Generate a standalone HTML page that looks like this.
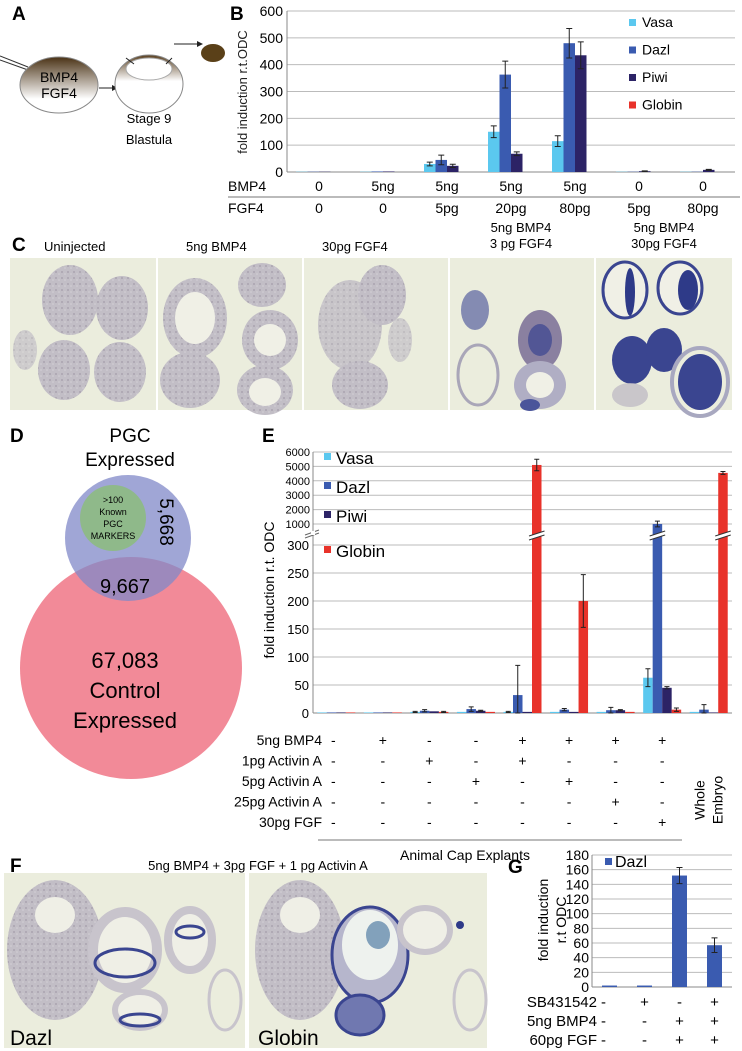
<!DOCTYPE html>
<html><head><meta charset="utf-8"><style>
html,body{margin:0;padding:0;background:#fff}
svg{display:block;font-family:"Liberation Sans",Arial,sans-serif}
</style></head><body>
<svg id="fig" width="742" height="1051" viewBox="0 0 742 1051" xmlns="http://www.w3.org/2000/svg">
<defs>
<linearGradient id="emb" x1="0" y1="0" x2="0" y2="1"><stop offset="0" stop-color="#4a3215"/><stop offset="0.75" stop-color="#fff"/></linearGradient>
<linearGradient id="emb2" x1="0" y1="0" x2="0" y2="1"><stop offset="0" stop-color="#5a4020"/><stop offset="0.45" stop-color="#fff"/></linearGradient>
<pattern id="tex" width="6" height="6" patternUnits="userSpaceOnUse"><rect width="6" height="6" fill="#c2bec6"/><circle cx="2" cy="2" r="1" fill="#aaa4b0"/><circle cx="5" cy="4" r="0.8" fill="#d4d0d6"/></pattern>
</defs>
<!-- Panel A -->
<g>
<text x="12" y="20" font-size="19" font-weight="bold">A</text>
<line x1="0" y1="56" x2="28" y2="67" stroke="#333" stroke-width="1"/><line x1="0" y1="60" x2="28" y2="70" stroke="#333" stroke-width="1"/>
<ellipse cx="59" cy="85" rx="39" ry="28" fill="url(#emb)" stroke="#888"/>
<text x="59" y="82" font-size="14" text-anchor="middle">BMP4</text>
<text x="59" y="98" font-size="14" text-anchor="middle">FGF4</text>
<line x1="99" y1="88" x2="114" y2="88" stroke="#222"/><path d="M112,85 L118,88 L112,91Z" fill="#222"/>
<ellipse cx="149" cy="84" rx="34" ry="29" fill="url(#emb2)" stroke="#888"/>
<ellipse cx="149" cy="69" rx="23" ry="11" fill="#fff" stroke="#aaa"/>
<line x1="126" y1="58" x2="134" y2="64" stroke="#222"/><line x1="172" y1="58" x2="166" y2="64" stroke="#222"/>
<text x="149" y="123" font-size="13" text-anchor="middle">Stage 9</text>
<text x="149" y="144" font-size="13" text-anchor="middle">Blastula</text>
<line x1="174" y1="44" x2="199" y2="44" stroke="#222"/><path d="M197,41 L203,44 L197,47Z" fill="#222"/>
<ellipse cx="213" cy="53" rx="12" ry="9" fill="#5a4018"/>
</g>
<!-- Panel B -->
<g id="panelB">
<text x="230" y="20" font-size="19" font-weight="bold">B</text>
<text transform="translate(247,92) rotate(-90)" font-size="13" text-anchor="middle" fill="#222">fold induction r.t.ODC</text>
</g>
<!-- Panel C -->
<g id="panelC">
<text x="12" y="251" font-size="19" font-weight="bold">C</text>
<text x="44" y="251" font-size="13">Uninjected</text>
<text x="186" y="251" font-size="13">5ng BMP4</text>
<text x="322" y="251" font-size="13">30pg FGF4</text>
<text x="521" y="232" font-size="13" text-anchor="middle">5ng BMP4</text>
<text x="521" y="248" font-size="13" text-anchor="middle">3 pg FGF4</text>
<text x="664" y="232" font-size="13" text-anchor="middle">5ng BMP4</text>
<text x="664" y="248" font-size="13" text-anchor="middle">30pg FGF4</text>
</g>
<!-- Panel D -->
<g>
<text x="10" y="442" font-size="19" font-weight="bold">D</text>
<text x="130" y="442" font-size="19" text-anchor="middle">PGC</text>
<text x="130" y="466" font-size="19" text-anchor="middle">Expressed</text>
<circle cx="131" cy="668" r="111" fill="#f28a98"/>
<circle cx="128" cy="538" r="63" fill="#8088c8" fill-opacity="0.75"/>
<circle cx="113" cy="518" r="33" fill="#8fb98a"/>
<text x="113" y="503" font-size="9" text-anchor="middle">&gt;100</text>
<text x="113" y="515" font-size="9" text-anchor="middle">Known</text>
<text x="113" y="527" font-size="9" text-anchor="middle">PGC</text>
<text x="113" y="539" font-size="9" text-anchor="middle">MARKERS</text>
<text transform="translate(160,522) rotate(90)" font-size="19" text-anchor="middle">5,668</text>
<text x="125" y="593" font-size="20" text-anchor="middle">9,667</text>
<text x="125" y="668" font-size="22" text-anchor="middle">67,083</text>
<text x="125" y="698" font-size="22" text-anchor="middle">Control</text>
<text x="125" y="728" font-size="22" text-anchor="middle">Expressed</text>
</g>
<!-- Panel E -->
<g id="panelE">
<text x="262" y="442" font-size="19" font-weight="bold">E</text>
<text transform="translate(274,590) rotate(-90)" font-size="14" text-anchor="middle">fold induction r.t. ODC</text>
<text x="465" y="860" font-size="14" text-anchor="middle">Animal Cap Explants</text>
<line x1="318" y1="840" x2="682" y2="840" stroke="#777"/>
</g>
<!-- Panel F -->
<g id="panelF">
<text x="10" y="872" font-size="19" font-weight="bold">F</text>
<text x="258" y="870" font-size="13" text-anchor="middle">5ng BMP4  + 3pg FGF + 1 pg Activin A</text>
</g>
<!-- Panel G -->
<g id="panelG">
<text x="508" y="873" font-size="19" font-weight="bold">G</text>
<text transform="translate(548,920) rotate(-90)" font-size="14" text-anchor="middle">fold induction</text>
<text transform="translate(566,920) rotate(-90)" font-size="14" text-anchor="middle">r.t ODC</text>
</g>
</svg>
<script>
const NS="http://www.w3.org/2000/svg";
function mk(parent,tag,attrs,txt){const e=document.createElementNS(NS,tag);for(const k in attrs)e.setAttribute(k,attrs[k]);if(txt!==undefined)e.textContent=txt;parent.appendChild(e);return e;}
const seriesNames=["Vasa","Dazl","Piwi","Globin"];
const seriesColors=["#5bc8ef","#3a5bb0","#2c2366","#e8322a"];

// ---------- Panel B data ----------
const bTicks=[0,100,200,300,400,500,600];
const bBmp4=["0","5ng","5ng","5ng","5ng","0","0"];
const bFgf4=["0","0","5pg","20pg","80pg","5pg","80pg"];
const bVasa=[1,1,30,150,115,1,1];
const bDazl=[1,2,45,363,480,1,1];
const bPiwi=[1,2,23,68,435,3,8];
const bGlobin=[0,0,0,0,0,0,0];
const bVasaErr=[0,0,7,22,20,0,0];
const bDazlErr=[0,0,18,50,55,0,0];
const bPiwiErr=[0,0,6,7,50,1,2];
const bGlobinErr=[0,0,0,0,0,0,0];

// ---------- Panel E data ----------
const eTicksLow=[0,50,100,150,200,250,300];
const eTicksHigh=[1000,2000,3000,4000,5000,6000];
const eVasa=[1,1,2,2,2,2,2,63,2];
const eDazl=[1,1,4,7,32,6,5,1000,6];
const ePiwi=[1,1,3,4,2,2,5,45,1];
const eGlobin=[1,1,2,2,5100,200,2,6,4550];
const eVasaErr=[0,0,1,0,1,0,0,16,0];
const eDazlErr=[0,0,2,4,53,2,5,200,9];
const ePiwiErr=[0,0,0,1,0,0,1,2,0];
const eGlobinErr=[0,0,1,0,400,47,0,3,100];
const eBreakGroups=[4,7,8];
const eRowLabels=["5ng BMP4","1pg Activin A","5pg Activin A","25pg Activin A","30pg FGF"];
const eRow0=["-","+","-","-","+","+","+","+"];
const eRow1=["-","-","+","-","+","-","-","-"];
const eRow2=["-","-","-","+","-","+","-","-"];
const eRow3=["-","-","-","-","-","-","+","-"];
const eRow4=["-","-","-","-","-","-","-","+"];

// ---------- Panel G data ----------
const gTicks=[0,20,40,60,80,100,120,140,160,180];
const gDazl=[2,2,152,57];
const gDazlErr=[0,0,11,10];
const gRowLabels=["SB431542","5ng BMP4","60pg FGF"];
const gRow0=["-","+","-","+"];
const gRow1=["-","-","+","+"];
const gRow2=["-","-","+","+"];

// ===== Panel B draw =====
(function(){
const g=document.getElementById("panelB");
const L=287,R=735,T=11,B0=172,n=bBmp4.length,gw=(R-L)/n;
const y=v=>B0-(v/600)*(B0-T);
bTicks.forEach(t=>{
 const ln=mk(g,"line",{x1:L,x2:R,y1:y(t),y2:y(t),stroke:t===0?"#888":"#bbb"});
 
 
 const tx=mk(g,"text",{x:L-4,y:y(t)+5,"font-size":14,"text-anchor":"end"},String(t));
 
 
});
mk(g,"line",{x1:L,x2:L,y1:T,y2:B0,stroke:"#888"});
const vals=[bVasa,bDazl,bPiwi,bGlobin],errs=[bVasaErr,bDazlErr,bPiwiErr,bGlobinErr];
const bw=11.5;
for(let i=0;i<n;i++){
 const c=L+gw*(i+0.5);
 vals.forEach((arr,s)=>{
  const x=c-23+s*bw,v=arr[i];
  const r=mk(g,"rect",{x:x,y:y(v),width:bw,height:B0-y(v),fill:seriesColors[s]});
  
  
  const e=errs[s][i];
  if(e>0){const xc=x+bw/2;mk(g,"path",{d:`M${xc},${y(v+e)}V${y(v-e)}M${xc-3},${y(v+e)}h6M${xc-3},${y(v-e)}h6`,stroke:"#222",fill:"none"});}
 });
 const t1=mk(g,"text",{x:c,y:191,"font-size":14,"text-anchor":"middle"},bBmp4[i]);
 
 
 const t2=mk(g,"text",{x:c,y:213,"font-size":14,"text-anchor":"middle"},bFgf4[i]);
 
 
}
mk(g,"text",{x:228,y:191,"font-size":14},"BMP4");
mk(g,"text",{x:228,y:213,"font-size":14},"FGF4");
mk(g,"line",{x1:228,x2:740,y1:197,y2:197,stroke:"#777"});
seriesNames.forEach((nm,s)=>{
 const yy=25+s*27.5;
 const sq=mk(g,"rect",{x:629,y:yy-6,width:7,height:7,fill:seriesColors[s]});
 
 
 const t=mk(g,"text",{x:642,y:yy+2,"font-size":14},nm);
 
 
});
})();

// ===== Panel E draw =====
(function(){
const g=document.getElementById("panelE");
const L=313,R=732,B0=713,n=eVasa.length,gw=(R-L)/n;
const y=v=>v<=300?B0-v*0.56:524-(v-1000)*(72/5000);
eTicksLow.forEach(t=>{
 const ln=mk(g,"line",{x1:L,x2:R,y1:y(t),y2:y(t),stroke:t===0?"#888":"#bbb"});
 
 
 const tx=mk(g,"text",{x:L-4,y:y(t)+5,"font-size":13,"text-anchor":"end"},String(t));
 
 
});
eTicksHigh.forEach(t=>{
 const ln=mk(g,"line",{x1:L,x2:R,y1:y(t),y2:y(t),stroke:"#bbb"});
 
 
 const tx=mk(g,"text",{x:L-3,y:y(t)+4,"font-size":11,"text-anchor":"end"},String(t));
 
 
});
mk(g,"line",{x1:L,x2:L,y1:y(6000),y2:B0,stroke:"#888"});
mk(g,"path",{d:`M${L-8},${535}l14,-5M${L-8},${538}l14,-5`,stroke:"#666",fill:"none"});
mk(g,"rect",{x:L-2,y:531,width:4,height:4,fill:"#fff"});
const vals=[eVasa,eDazl,ePiwi,eGlobin],errs=[eVasaErr,eDazlErr,ePiwiErr,eGlobinErr];
const bw=9.5;
for(let i=0;i<n;i++){
 const c=L+gw*(i+0.5);
 vals.forEach((arr,s)=>{
  const x=c-19+s*bw,v=arr[i];
  const r=mk(g,"rect",{x:x,y:y(v),width:bw,height:B0-y(v),fill:seriesColors[s]});
  
  
  const e=errs[s][i];
  if(e>0){const xc=x+bw/2;mk(g,"path",{d:`M${xc},${y(v+e)}V${y(Math.max(v-e,0))}M${xc-2.5},${y(v+e)}h5M${xc-2.5},${y(Math.max(v-e,0))}h5`,stroke:"#222",fill:"none"});}
  if(v>300&&eBreakGroups.includes(i)){
   mk(g,"path",{d:`M${x-3},${536}l${bw+6},-5v4l${-bw-6},5z`,fill:"#fff"});
   mk(g,"path",{d:`M${x-3},${536}l${bw+6},-5M${x-3},${540}l${bw+6},-5`,stroke:"#333",fill:"none"});
  }
 });
}
const rows=[eRow0,eRow1,eRow2,eRow3,eRow4];
rows.forEach((row,r)=>{
 const yy=745+r*20.5;
 const lb=mk(g,"text",{x:322,y:yy,"font-size":14,"text-anchor":"end"},eRowLabels[r]);
 
 
 row.forEach((s,i)=>{
  const t=mk(g,"text",{x:L+gw*(i+0.5)-(i===0?3:0),y:yy,"font-size":14,"text-anchor":"middle"},s);
  
  
 });
});
mk(g,"text",{transform:`translate(${L+gw*8.5-4},800) rotate(-90)`,"font-size":14,"text-anchor":"middle"},"Whole");
mk(g,"text",{transform:`translate(${L+gw*8.5+14},800) rotate(-90)`,"font-size":14,"text-anchor":"middle"},"Embryo");
const ly=[460,489,518,553];
seriesNames.forEach((nm,s)=>{
 const sq=mk(g,"rect",{x:324,y:ly[s]-7,width:7,height:7,fill:seriesColors[s]});
 
 
 const t=mk(g,"text",{x:336,y:ly[s]+4,"font-size":17},nm);
 
 
});
})();

// ===== Panel G draw =====
(function(){
const g=document.getElementById("panelG");
const L=592,R=732,B0=987,n=gDazl.length,gw=(R-L)/n;
const y=v=>B0-v*(132/180);
gTicks.forEach(t=>{
 const ln=mk(g,"line",{x1:L,x2:R,y1:y(t),y2:y(t),stroke:t===0?"#888":"#bbb"});
 
 
 const tx=mk(g,"text",{x:L-3,y:y(t)+5,"font-size":14,"text-anchor":"end"},String(t));
 
 
});
mk(g,"line",{x1:L,x2:L,y1:y(180),y2:B0,stroke:"#888"});
const bw=15;
for(let i=0;i<n;i++){
 const c=L+gw*(i+0.5),v=gDazl[i];
 const r=mk(g,"rect",{x:c-bw/2,y:y(v),width:bw,height:B0-y(v),fill:seriesColors[1]});
 
 
 const e=gDazlErr[i];
 if(e>0)mk(g,"path",{d:`M${c},${y(v+e)}V${y(v-e)}M${c-3},${y(v+e)}h6M${c-3},${y(v-e)}h6`,stroke:"#222",fill:"none"});
}
[gRow0,gRow1,gRow2].forEach((row,r)=>{
 const yy=1007+r*19;
 const lb=mk(g,"text",{x:597,y:yy,"font-size":15,"text-anchor":"end"},gRowLabels[r]);
 
 
 row.forEach((s,i)=>{
  const t=mk(g,"text",{x:L+gw*(i+0.5)-(i===0?6:0),y:yy,"font-size":15,"text-anchor":"middle"},s);
  
  
 });
});
const sq=mk(g,"rect",{x:605,y:858,width:7,height:7,fill:seriesColors[1]});


const lt=mk(g,"text",{x:615,y:867,"font-size":16},"Dazl");


})();

// ===== Micrographs (decorative) =====
function blob(g,cx,cy,rx,ry,fill,stroke,sw,op){
 return mk(g,"ellipse",{cx,cy,rx,ry,fill,stroke:stroke||"none","stroke-width":sw||0,"fill-opacity":op===undefined?1:op});
}
(function(){
const g=document.getElementById("panelC");
const xs=[10,158,304,450,596],ws=[146,144,144,144,136];
xs.forEach((x,i)=>{
 const r=mk(g,"rect",{x,y:258,width:ws[i],height:152,fill:"#ebeddd"});
 
 
});
const tissue="url(#tex)";
blob(g,70,300,28,35,tissue);blob(g,122,308,26,32,tissue);blob(g,64,370,26,30,tissue);blob(g,120,372,26,30,tissue);blob(g,25,350,12,20,tissue,null,0,0.7);
blob(g,195,318,32,40,tissue);blob(g,195,318,20,26,"#f0f0e6");blob(g,262,285,24,22,tissue);blob(g,270,340,28,30,tissue);blob(g,270,340,16,16,"#f0f0e6");
blob(g,190,380,30,28,tissue);blob(g,265,390,28,25,tissue);blob(g,265,392,16,14,"#f0f0e6");
blob(g,350,325,32,45,tissue,null,0,0.85);blob(g,382,295,24,30,tissue);blob(g,360,385,28,24,tissue);blob(g,400,340,12,22,tissue,null,0,0.7);
blob(g,475,310,14,20,"#6a72a8",null,0,0.8);blob(g,540,340,22,30,"#8a80a0");blob(g,540,340,12,16,"#3a4590",null,0,0.7);
blob(g,478,375,20,30,"none","#a9a6b8",3);blob(g,540,385,26,24,"#b0aec4");blob(g,540,385,14,13,"#f0f0e6");blob(g,530,405,10,6,"#4a559a");
blob(g,625,290,22,28,"#f0f0e6","#3a4590",3);blob(g,630,292,5,24,"#2e3a88");blob(g,680,288,22,26,"#f0f0e6","#3a4590",3);blob(g,688,290,10,20,"#2e3a88");
blob(g,632,360,20,24,"#3a4590");blob(g,664,350,18,22,"#3a4590");blob(g,700,382,22,28,"#3a4590");blob(g,700,382,28,34,"none","#a8a8c0",4);
blob(g,630,395,18,12,"#c0bcc6",null,0,0.8);
})();
(function(){
const g=document.getElementById("panelF");
[[4,241],[249,238]].forEach(([x,w],i)=>{
 const r=mk(g,"rect",{x,y:873,width:w,height:175,fill:"#ebeddd"});
 
 
});
const tissue="url(#tex)";
blob(g,55,950,48,70,tissue);blob(g,55,915,20,18,"#efefe6");blob(g,125,950,32,38,"#efefe6","#c8c4cc",10);
blob(g,125,963,30,14,"none","#3a4590",3,1);blob(g,190,940,22,30,"#efefe6","#c8c4cc",8);blob(g,190,932,14,6,"none","#3a4590",3);
blob(g,140,1010,25,18,"#efefe6","#c8c4cc",6);blob(g,140,1020,20,6,"none","#3a4590",3);blob(g,225,1000,16,30,"none","#c8c4cc",3);
mk(g,"text",{x:10,y:1045,"font-size":21},"Dazl");
blob(g,300,950,45,70,tissue);blob(g,300,915,20,18,"#efefe6");blob(g,370,955,38,48,"#b6b6cc","#3a4590",3);blob(g,370,945,28,35,"#eef2ee");
blob(g,378,935,12,14,"#3a6a9a",null,0,0.6);blob(g,360,1015,24,20,"#7078b0","#3a4590",3);blob(g,425,930,25,22,"#efefe6","#c8c4cc",6);
blob(g,460,925,4,4,"#2e3a88");blob(g,470,1000,16,30,"none","#c8c4cc",3);
mk(g,"text",{x:258,y:1045,"font-size":21},"Globin");
})();
</script>
</body></html>
